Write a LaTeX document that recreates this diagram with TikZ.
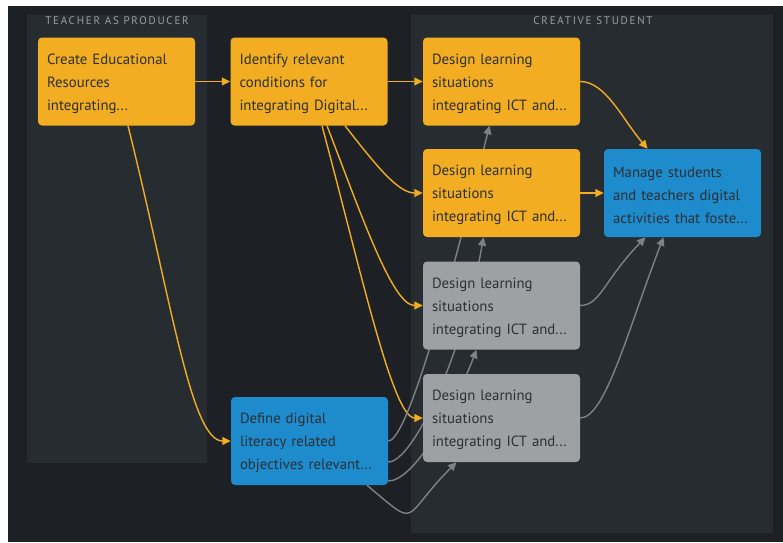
\documentclass[tikz,border=0pt]{standalone}
\usepackage{fontspec}
\setmainfont{PT Sans}
\usetikzlibrary{arrows.meta}
\definecolor{bgdark}{HTML}{1D2125}
\definecolor{lanefill}{HTML}{272C31}
\definecolor{orangefill}{HTML}{F2AD22}
\definecolor{bluefill}{HTML}{1E8BCD}
\definecolor{grayfill}{HTML}{9EA1A4}
\definecolor{boxtext}{HTML}{2C3034}
\definecolor{lanetext}{HTML}{9A9FA5}
\definecolor{grayline}{HTML}{7E8286}
\pgfdeclarelayer{lanes}
\pgfdeclarelayer{links}
\pgfsetlayers{lanes,links,main}
\tikzset{
	box/.style={rounded corners=4pt, text width=139pt, inner xsep=9pt, inner ysep=0pt, minimum height=88pt, align=left, text=boxtext, font={\fontsize{14.8}{23}\selectfont}, execute at end node={\par\vspace*{-4pt}}},
	orangebox/.style={box, fill=orangefill},
	bluebox/.style={box, fill=bluefill},
	graybox/.style={box, fill=grayfill},
	lanetitle/.style={text=lanetext, inner sep=0pt, font={\fontsize{11}{12}\selectfont\addfontfeature{LetterSpace=16}}},
	orangelink/.style={draw=orangefill, line width=1.4pt, -{Triangle[length=8.5pt,width=8pt]}},
	graylink/.style={draw=grayline, line width=1.4pt, -{Triangle[length=8.5pt,width=8pt]}},
}

\begin{document}
\begin{tikzpicture}[x=1pt, y=1pt]
	\useasboundingbox (0, 0) rectangle (783, -542);
	\begin{pgfonlayer}{lanes}
	\fill[white] (0, 0) rectangle (783, -542);
	\fill[bgdark] (8, -6) rectangle (783, -542);
	\fill[lanefill] (27, -15) rectangle (207, -463);
	\fill[lanefill] (411, -15) rectangle (773, -533);
	\end{pgfonlayer}
	\node[lanetitle] (t0) at (117, -21) {TEACHER AS PRODUCER};
	\node[lanetitle] (t1) at (593, -21) {CREATIVE STUDENT};
	\node[orangebox] (0) at (116.5, -81.5) {Create Educational\\Resources\\integrating...};
	\node[orangebox] (1) at (309, -81.5) {Identify relevant\\conditions for\\integrating Digital...};
	\node[orangebox] (2) at (501.5, -81.5) {Design learning\\situations\\integrating ICT and...};
	\node[orangebox] (3) at (501.5, -193) {Design learning\\situations\\integrating ICT and...};
	\node[graybox] (4) at (501.5, -305.5) {Design learning\\situations\\integrating ICT and...};
	\node[graybox] (5) at (501.5, -418) {Design learning\\situations\\integrating ICT and...};
	\node[bluebox] (6) at (682.5, -193) {Manage students\\and teachers digital\\activities that foste...};
	\node[bluebox] (7) at (309.5, -441) {Define digital\\literacy related\\objectives relevant...};
	\begin{pgfonlayer}{links}
	\draw[orangelink] (0) -- (1);
	\draw[orangelink] (1) -- (2);
	\draw[orangelink] (3) -- (6);
	\draw[orangelink] (2.east) to[out=0, in=130, out distance=25pt, in distance=40pt] ([xshift=-35pt]6.north);
	\draw[orangelink] ([xshift=36pt]1.south) to[out=-52, in=180, out distance=50pt, in distance=25pt] (3.west);
	\draw[orangelink] ([xshift=18pt]1.south) to[out=-69, in=180, out distance=100pt, in distance=30pt] (4.west);
	\draw[orangelink] ([xshift=13pt]1.south) to[out=-75, in=180, out distance=150pt, in distance=30pt] (5.west);
	\draw[orangelink] ([xshift=11.5pt]0.south) to[out=-76, in=180, out distance=180pt, in distance=40pt] (7.west);
	\draw[graylink] (7.east) to[out=0, in=-104, out distance=20pt, in distance=150pt] ([xshift=-12pt]2.south);
	\draw[graylink] ([yshift=-21pt]7.east) to[out=0, in=-100, out distance=25pt, in distance=120pt] ([xshift=-18pt]3.south);
	\draw[graylink] ([yshift=-40pt]7.east) to[out=0, in=-111, out distance=25pt, in distance=70pt] ([xshift=-25pt]4.south);
	\draw[graylink] ([xshift=57.5pt]7.south) to[out=-40, in=-135, out distance=70pt, in distance=80pt] ([xshift=-45pt]5.south);
	\draw[graylink] (4.east) to[out=0, in=-134, out distance=20pt, in distance=60pt] ([xshift=-37pt]6.south);
	\draw[graylink] (5.east) to[out=0, in=-111, out distance=25pt, in distance=100pt] ([xshift=-19pt]6.south);
	\end{pgfonlayer}
\end{tikzpicture}
\end{document}
